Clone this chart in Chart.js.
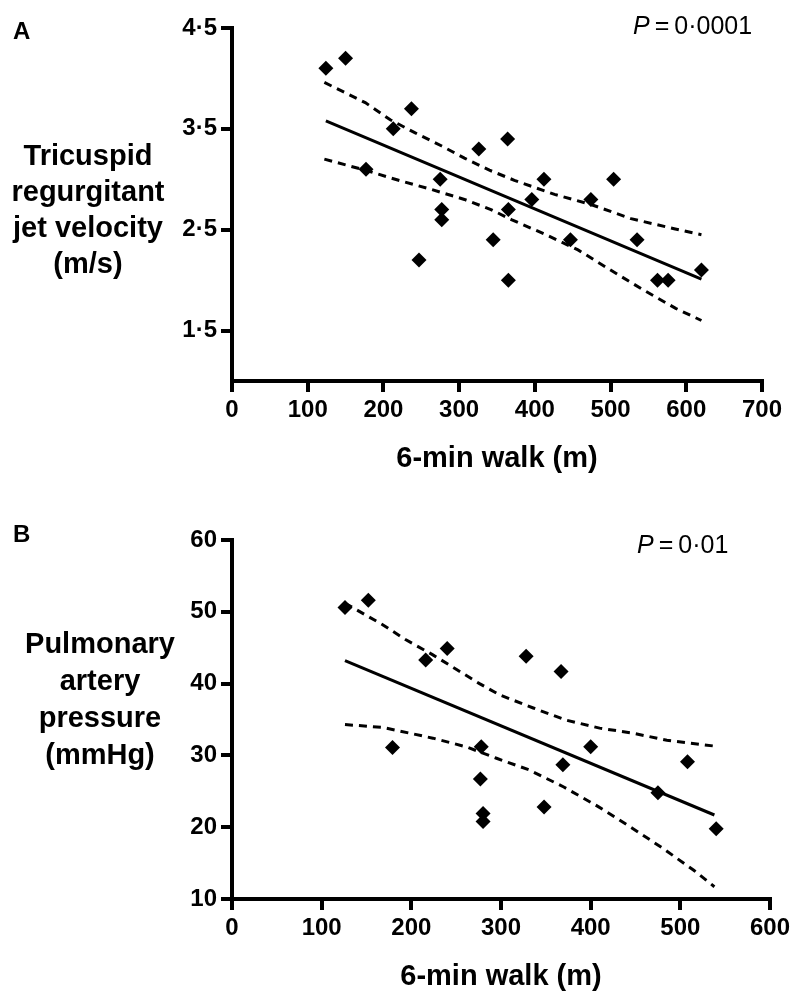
<!DOCTYPE html>
<html>
<head>
<meta charset="utf-8">
<script src="https://cdn.jsdelivr.net/npm/chart.js@4.4.1/dist/chart.umd.min.js"></script>
<style>
  body { margin: 0; background: #fff; width: 800px; height: 1001px; position: relative; overflow: hidden;
         font-family: "Liberation Sans", Arial, sans-serif; color: #000; }
  canvas { position: absolute; left: 0; }
  .lbl { position: absolute; white-space: nowrap; }
  .panel { font-weight: bold; font-size: 24px; line-height: 1; }
  .pval { font-size: 25px; line-height: 1; }
  .ytitle { font-weight: bold; font-size: 29px; text-align: center; width: 200px; }
</style>
</head>
<body>
<canvas id="chartA" width="800" height="480" style="top:0"></canvas>
<canvas id="chartB" width="800" height="521" style="top:480px"></canvas>

<div class="lbl panel" style="left:13px;top:19px">A</div>
<div class="lbl pval" style="left:633px;top:13px"><i>P</i>&#8201;=&#8201;0·0001</div>
<div class="lbl ytitle" style="left:-12px;top:137px;line-height:36px">Tricuspid<br>regurgitant<br>jet velocity<br>(m/s)</div>

<div class="lbl panel" style="left:13px;top:522px">B</div>
<div class="lbl pval" style="left:637px;top:532px"><i>P</i>&#8201;=&#8201;0·01</div>
<div class="lbl ytitle" style="left:0px;top:625px;line-height:37px">Pulmonary<br>artery<br>pressure<br>(mmHg)</div>

<script>
// panel A - tricuspid regurgitant jet velocity vs 6-min walk
const walkA = [124, 150, 177, 213, 237, 247, 275, 277, 277, 326, 345, 364, 365, 365, 396, 412, 447, 474, 504, 535, 562, 576, 620];
const trvA = [4.1, 4.2, 3.1, 3.5, 3.7, 2.2, 3.0, 2.7, 2.6, 3.3, 2.4, 3.4, 2.7, 2.0, 2.8, 3.0, 2.4, 2.8, 3.0, 2.4, 2.0, 2.0, 2.1];
const fitWalkA = [124, 620];
const fitTrvA = [3.58, 2.01];
const upperWalkA = [122, 176, 209, 242, 277, 307, 340, 373, 426, 474, 527, 584, 620];
const upperTrvA = [3.96, 3.76, 3.59, 3.46, 3.33, 3.21, 3.09, 2.99, 2.85, 2.75, 2.61, 2.51, 2.45];
const lowerWalkA = [122, 176, 220, 263, 307, 342, 369, 412, 457, 500, 544, 586, 620];
const lowerTrvA = [3.20, 3.09, 2.99, 2.90, 2.80, 2.70, 2.60, 2.46, 2.30, 2.10, 1.90, 1.72, 1.60];
const xTicksA = [0, 100, 200, 300, 400, 500, 600, 700];
const yTicksA = [1.5, 2.5, 3.5, 4.5];

// panel B - pulmonary artery pressure vs 6-min walk
const walkB = [126, 152, 179, 216, 240, 277, 278, 280, 280, 328, 348, 367, 369, 400, 475, 508, 540];
const papB = [50.6, 51.6, 31.1, 43.3, 44.9, 26.7, 31.2, 21.9, 20.8, 43.8, 22.8, 41.7, 28.7, 31.2, 24.8, 29.1, 19.8];
const fitWalkB = [126, 538];
const fitPapB = [43.2, 21.7];
const upperWalkB = [126, 168, 194, 224, 250, 276, 299, 336, 373, 410, 447, 485, 538];
const upperPapB = [51.2, 48.2, 46.1, 44.0, 42.0, 40.0, 38.4, 36.6, 34.9, 33.8, 33.1, 32.1, 31.3];
const lowerWalkB = [126, 168, 224, 261, 295, 331, 370, 408, 446, 480, 515, 538];
const lowerPapB = [34.3, 33.9, 32.4, 31.2, 29.6, 28.0, 25.6, 22.9, 19.9, 17.1, 14.0, 11.7];
const xTicksB = [0, 100, 200, 300, 400, 500, 600];
const yTicksB = [10, 20, 30, 40, 50, 60];

const FONT = 'Liberation Sans, Arial, sans-serif';

function toPoints(xs, ys) {
  return xs.map((x, i) => ({ x: x, y: ys[i] }));
}

function lineSet(xs, ys, dashed) {
  return {
    data: toPoints(xs, ys),
    showLine: true,
    borderColor: '#000',
    borderWidth: 3,
    borderDash: dashed ? [8, 6] : [],
    pointRadius: 0,
    fill: false
  };
}

function axisLook() {
  return {
    grid: { drawOnChartArea: false, drawTicks: true, tickLength: 11, color: '#000', lineWidth: 4 },
    border: { display: true, color: '#000', width: 4 },
    ticks: { color: '#000', padding: 4, font: { family: FONT, size: 24, weight: 'bold' } }
  };
}

function drawPanel(id, p) {
  const xAxis = axisLook();
  xAxis.type = 'linear';
  xAxis.min = p.xTicks[0];
  xAxis.max = p.xTicks[p.xTicks.length - 1];
  xAxis.afterBuildTicks = s => { s.ticks = p.xTicks.map(v => ({ value: v })); };
  xAxis.afterFit = s => { s.height = p.xHeight; };
  xAxis.title = {
    display: true,
    text: '6-min walk (m)',
    color: '#000',
    font: { family: FONT, size: 29, weight: 'bold' },
    padding: { top: 0, bottom: p.titlePad }
  };

  const yAxis = axisLook();
  yAxis.min = p.yMin;
  yAxis.max = p.yTicks[p.yTicks.length - 1];
  yAxis.afterBuildTicks = s => { s.ticks = p.yTicks.map(v => ({ value: v })); };
  yAxis.afterFit = s => { s.width = 232; };
  yAxis.ticks.callback = p.yFormat;

  new Chart(document.getElementById(id), {
    type: 'scatter',
    data: {
      datasets: [
        {
          data: toPoints(p.xs, p.ys),
          pointStyle: 'rectRot',
          pointRadius: 7.5,
          pointBackgroundColor: '#000',
          pointBorderColor: '#000',
          pointBorderWidth: 0
        },
        lineSet(p.fitX, p.fitY, false),
        lineSet(p.upX, p.upY, true),
        lineSet(p.loX, p.loY, true)
      ]
    },
    options: {
      responsive: false,
      animation: false,
      events: [],
      layout: { padding: { top: p.top, right: p.right, left: 0, bottom: 0 } },
      plugins: { legend: { display: false }, tooltip: { enabled: false } },
      scales: { x: xAxis, y: yAxis }
    }
  });
}

drawPanel('chartA', {
  xs: walkA, ys: trvA,
  fitX: fitWalkA, fitY: fitTrvA,
  upX: upperWalkA, upY: upperTrvA,
  loX: lowerWalkA, loY: lowerTrvA,
  xTicks: xTicksA, yTicks: yTicksA, yMin: 1.0,
  yFormat: v => v.toFixed(1).replace('.', '·'),
  top: 28, right: 38, xHeight: 99, titlePad: 4
});

drawPanel('chartB', {
  xs: walkB, ys: papB,
  fitX: fitWalkB, fitY: fitPapB,
  upX: upperWalkB, upY: upperPapB,
  loX: lowerWalkB, loY: lowerPapB,
  xTicks: xTicksB, yTicks: yTicksB, yMin: 10,
  yFormat: v => String(v),
  top: 60, right: 30, xHeight: 102, titlePad: 7
});
</script>
</body>
</html>
